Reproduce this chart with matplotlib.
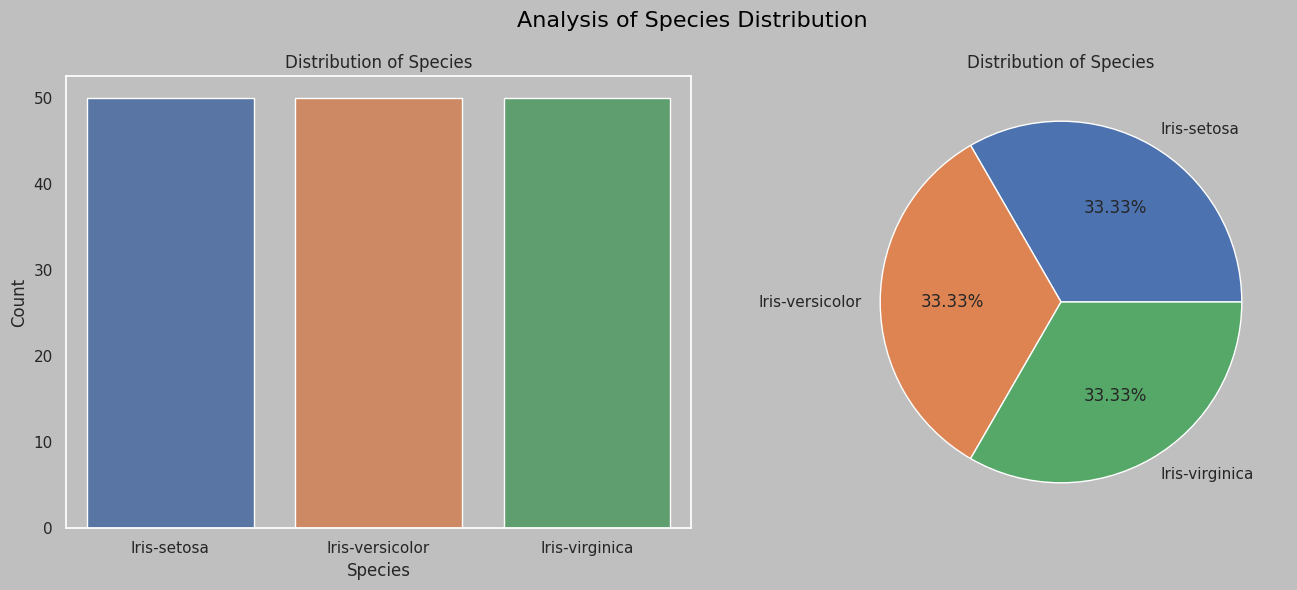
import numpy as np
import matplotlib
matplotlib.use("Agg")
import matplotlib.pyplot as plt
import seaborn as sns

# species counts from the iris data
species = ["Iris-setosa", "Iris-versicolor", "Iris-virginica"]
counts = [50, 50, 50]

sns.set_theme(style="dark", rc={
    "axes.facecolor": "#bfbfbf",
    "figure.facecolor": "#bfbfbf",
    "savefig.facecolor": "#bfbfbf",
    "axes.edgecolor": "white",
    "axes.linewidth": 1.25,
})

fig = plt.figure(figsize=(12.97, 5.90), dpi=100)
ax1 = fig.add_axes([66 / 1297, 62 / 590, 625 / 1297, 452 / 590])
ax2 = fig.add_axes([835 / 1297, 62 / 590, 452 / 1297, 452 / 590])

# bar chart
sns.barplot(x=species, y=counts, hue=species, palette="deep", ax=ax1, legend=False)
ax1.set_title("Distribution of Species")
ax1.set_xlabel("Species")
ax1.set_ylabel("Count")
for p in ax1.patches:
    p.set_edgecolor("white")

# pie chart
ax2.pie(counts, labels=species, autopct="%.2f%%", colors=sns.color_palette("deep", 3),
        wedgeprops={"edgecolor": "white"})
ax2.set_xlim(-1.25, 1.25)
ax2.set_ylim(-1.25, 1.25)
ax2.set_title("Distribution of Species")

fig.suptitle("Analysis of Species Distribution", fontsize=16, color="black",
             x=692 / 1297, y=0.981)
fig.savefig("out.png", dpi=100)
